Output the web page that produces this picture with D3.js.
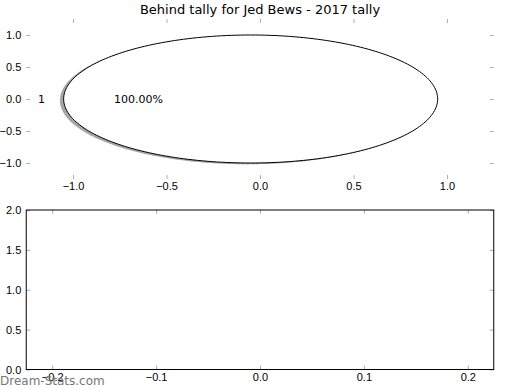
<!DOCTYPE html>
<html>
<head>
<meta charset="utf-8">
<script src="https://cdn.jsdelivr.net/npm/d3@7"></script>
<style>
  body { margin: 0; background: #fff; }
  svg { font-family: "DejaVu Sans", sans-serif; }
  .tick line { stroke: #b0b0b0; }
  .tick text { fill: #000; font-size: 11px; }
</style>
</head>
<body>
<svg width="520" height="390"></svg>
<script>
// pie data
const sliceLabels = ["1"];
const sliceValues = [1];
const sliceExplode = [0.05];
const chartTitle = "Behind tally for Jed Bews - 2017 tally";

// tick labels
const pieTicks = [-1.0, -0.5, 0.0, 0.5, 1.0];
const emptyXTicks = [-0.2, -0.1, 0.0, 0.1, 0.2];
const emptyYTicks = [0.0, 0.5, 1.0, 1.5, 2.0];

const svg = d3.select("svg");
const left = 26.25, right = 493.75;
const fmt = d3.format(".1f");
const minusFmt = d => fmt(d).replace("-", "\u2212");

// ---------- top: pie ----------
const top1 = 19, bottom1 = 179;
const x = d3.scaleLinear().domain([-1.25, 1.25]).range([left, right]);
const y = d3.scaleLinear().domain([-1.25, 1.25]).range([bottom1, top1]);

const g1 = svg.append("g");

function addTicks(g, xs, ys, xTicks, yTicks, xTop, xBottom, yLeft, yRight, pad) {
  g.append("g").attr("transform", `translate(0,${xBottom})`)
    .call(d3.axisBottom(xs).tickValues(xTicks).tickFormat(minusFmt).tickSize(-4).tickSizeOuter(0).tickPadding(pad))
    .call(a => a.select(".domain").remove());
  g.append("g").attr("transform", `translate(0,${xTop})`)
    .call(d3.axisTop(xs).tickValues(xTicks).tickFormat("").tickSize(-4).tickSizeOuter(0))
    .call(a => a.select(".domain").remove());
  g.append("g").attr("transform", `translate(${yLeft},0)`)
    .call(d3.axisLeft(ys).tickValues(yTicks).tickFormat(minusFmt).tickSize(-4).tickSizeOuter(0).tickPadding(5))
    .call(a => a.select(".domain").remove());
  g.append("g").attr("transform", `translate(${yRight},0)`)
    .call(d3.axisRight(ys).tickValues(yTicks).tickFormat("").tickSize(-4).tickSizeOuter(0))
    .call(a => a.select(".domain").remove());
}

addTicks(g1, x, y, pieTicks, pieTicks, top1, bottom1, left, right, 3);

// slices (angles counterclockwise from 3 o'clock, matplotlib style)
const pie = d3.pie().sort(null).startAngle(0).endAngle(2 * Math.PI);
const arcs = pie(sliceValues);
const total = d3.sum(sliceValues);

function wedgePath(a, cx, cy, r) {
  const n = 240;
  const pts = d3.range(n + 1).map(i => {
    const t = a.startAngle + (a.endAngle - a.startAngle) * i / n;
    return [cx + r * Math.cos(t), cy + r * Math.sin(t)];
  });
  const full = Math.abs(a.endAngle - a.startAngle - 2 * Math.PI) < 1e-9;
  if (!full) pts.unshift([cx, cy]);
  return d3.line().x(p => x(p[0])).y(p => y(p[1]))(pts) + "Z";
}

arcs.forEach((a, i) => {
  const mid = (a.startAngle + a.endAngle) / 2;
  const ex = sliceExplode[i] || 0;
  const cx = ex * Math.cos(mid), cy = ex * Math.sin(mid);
  // shadow
  g1.append("path")
    .attr("d", wedgePath(a, cx - 0.02, cy - 0.02, 1))
    .attr("fill", "#4d4d4d").attr("fill-opacity", 0.5);
  g1.append("path")
    .attr("d", wedgePath(a, cx, cy, 1))
    .attr("fill", "#fff").attr("stroke", "#000").attr("stroke-width", 1);
  const lx = cx + 1.1 * Math.cos(mid), ly = cy + 1.1 * Math.sin(mid);
  g1.append("text")
    .attr("x", x(lx)).attr("y", y(ly)).attr("dy", "0.35em")
    .attr("text-anchor", Math.cos(mid) < 0 ? "end" : "start")
    .attr("font-size", 11)
    .text(sliceLabels[i]);
  const px = cx + 0.6 * Math.cos(mid), py = cy + 0.6 * Math.sin(mid);
  g1.append("text")
    .attr("x", x(px)).attr("y", y(py)).attr("dy", "0.35em")
    .attr("text-anchor", "middle")
    .attr("font-size", 11)
    .text(d3.format(".2f")(sliceValues[i] / total * 100) + "%");
});

svg.append("text")
  .attr("x", (left + right) / 2).attr("y", 14)
  .attr("text-anchor", "middle").attr("font-size", 13)
  .text(chartTitle);

// ---------- bottom: empty axes ----------
const top2 = 210, bottom2 = 369.5;
const x2 = d3.scaleLinear().domain([-0.225, 0.225]).range([left, right]);
const y2 = d3.scaleLinear().domain([0, 2]).range([bottom2, top2]);
const g2 = svg.append("g");
addTicks(g2, x2, y2, emptyXTicks, emptyYTicks, top2, bottom2, left, right, 4);
g2.append("rect")
  .attr("x", left).attr("y", top2)
  .attr("width", right - left).attr("height", bottom2 - top2)
  .attr("fill", "none").attr("stroke", "#000").attr("stroke-width", 1);

// watermark
svg.append("text")
  .attr("x", 0).attr("y", 385)
  .attr("font-size", 12).attr("fill", "#777")
  .text("Dream-Stats.com");
</script>
</body>
</html>
